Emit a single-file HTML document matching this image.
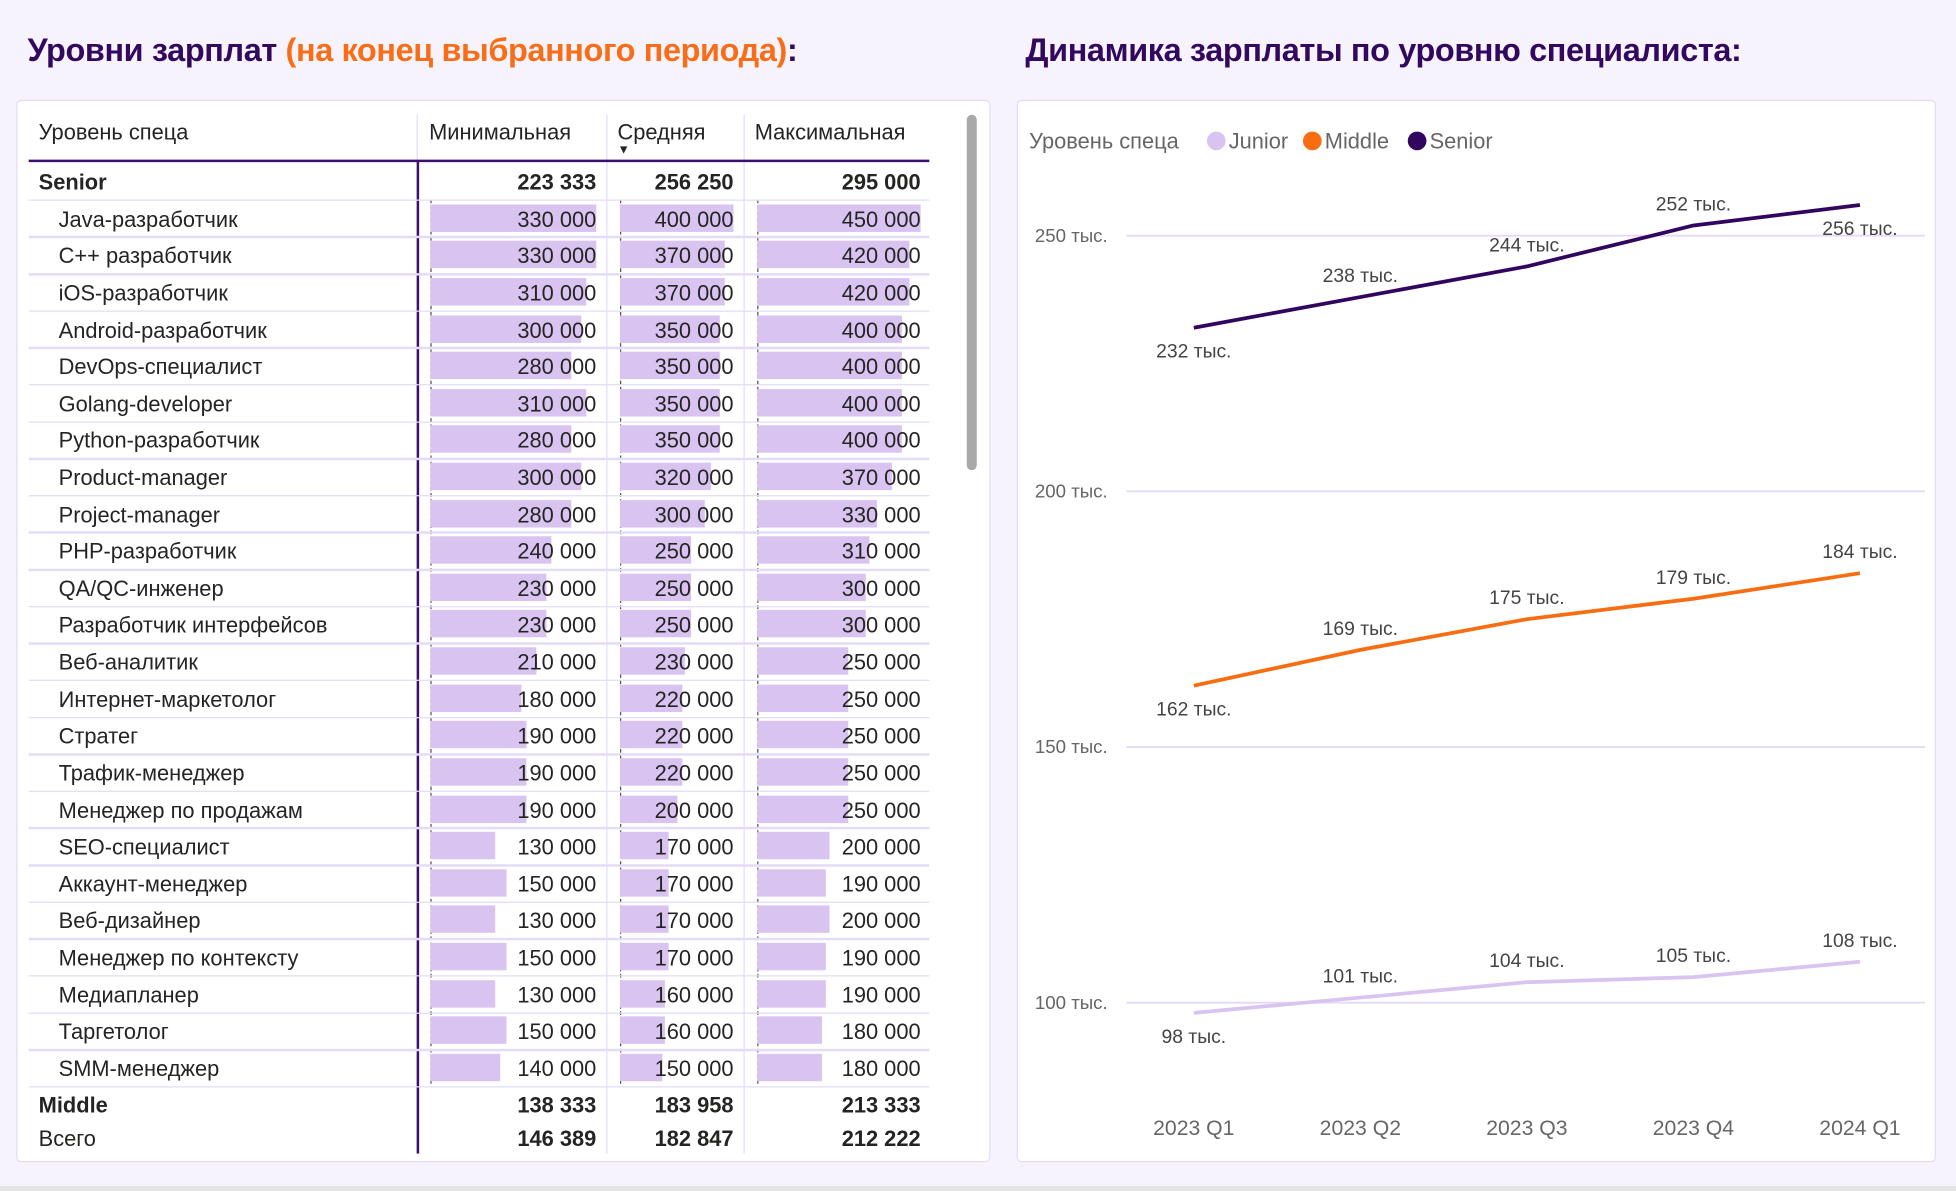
<!DOCTYPE html>
<html><head><meta charset="utf-8">
<style>
html,body{margin:0;padding:0;width:1956px;height:1191px;overflow:hidden;background:#f6f3fd;}
#wrap{position:absolute;left:0;top:0;width:1568px;height:955px;transform:scale(1.24745,1.2471);transform-origin:0 0;font-family:"Liberation Sans","DejaVu Sans",sans-serif;color:#252423;}
.title{position:absolute;font-size:26px;font-weight:bold;color:#33085f;letter-spacing:-0.3px;white-space:nowrap;}
.panel{position:absolute;background:#fff;border:1.5px solid #e4dcf6;border-radius:4px;}
.t{position:absolute;white-space:nowrap;font-size:17.5px;}
</style></head>
<body>
<div id="wrap">
<div class="title" style="left:22px;top:25px">Уровни зарплат <span style="color:#f86d17">(на конец выбранного периода)</span>:</div>
<div class="title" style="left:822px;top:25px">Динамика зарплаты по уровню специалиста:</div>
<div class="panel" style="left:13px;top:80px;width:779px;height:850px"></div>
<div class="panel" style="left:815px;top:80px;width:735px;height:850px"></div>
<div style="position:absolute;left:0;top:951px;width:1568px;height:4px;background:#e4e4e4"></div>
<div id="table"></div>
<div style="position:absolute;left:775px;top:92px;width:8px;height:285px;background:#a9a9a9;border-radius:4px"></div>
<svg id="chart" style="position:absolute;left:0;top:0" width="1568" height="955"></svg>
</div>
<script>
const names=["Java-разработчик","C++ разработчик","iOS-разработчик","Android-разработчик","DevOps-специалист","Golang-developer","Python-разработчик","Product-manager","Project-manager","PHP-разработчик","QA/QC-инженер","Разработчик интерфейсов","Веб-аналитик","Интернет-маркетолог","Стратег","Трафик-менеджер","Менеджер по продажам","SEO-специалист","Аккаунт-менеджер","Веб-дизайнер","Менеджер по контексту","Медиапланер","Таргетолог","SMM-менеджер"];
const minVals=[330000,330000,310000,300000,280000,310000,280000,300000,280000,240000,230000,230000,210000,180000,190000,190000,190000,130000,150000,130000,150000,130000,150000,140000];
const avgVals=[400000,370000,370000,350000,350000,350000,350000,320000,300000,250000,250000,250000,230000,220000,220000,220000,200000,170000,170000,170000,170000,160000,160000,150000];
const maxVals=[450000,420000,420000,400000,400000,400000,400000,370000,330000,310000,300000,300000,250000,250000,250000,250000,250000,200000,190000,200000,190000,190000,180000,180000];
const seniorTotals=[223333,256250,295000];
const middleTotals=[138333,183958,213333];
const allTotals=[146389,182847,212222];

const T=document.getElementById('table');
const fmt=v=>String(v).replace(/\B(?=(\d{3})+(?!\d))/g,' ');
function el(html,style){const d=document.createElement('div');d.className='t';d.style.cssText=style;d.textContent=html;T.appendChild(d);return d;}
function box(style){const d=document.createElement('div');d.style.cssText='position:absolute;'+style;T.appendChild(d);return d;}
let h;
h=el('Уровень спеца','left:31px;top:96px');
h=el('Минимальная','left:344px;top:96px');
h=el('Средняя','left:495px;top:96px');
h=el('Максимальная','left:605px;top:96px');
h=el('▼','left:495px;top:115px;font-size:10px');
const colStart=[345,497,607],colEnd=[478,588,738],colMax=[330000,400000,450000];
const rowH=29.62,c0=145,tOff=9;
let g;
g=box('left:334px;top:92px;width:1px;height:37px;background:#e4dcf6');
g=box('left:486px;top:92px;width:1px;height:833px;background:#e4dcf6');
g=box('left:596px;top:92px;width:1px;height:833px;background:#e4dcf6');
g=box('left:23px;top:128px;width:722px;height:2px;background:#3b0f6e');
g=box('left:334px;top:129px;width:2px;height:796px;background:#3b0f6e');
for(let c=0;c<3;c++){g=box(`left:${colStart[c]}px;top:160px;width:0;height:709px;border-left:1px dashed #555`);}
function totalRow(label,vals,y,bold,name){
  let d=el(label,`left:31px;top:${y-tOff}px;font-weight:${bold?'bold':'normal'}`);
  
  vals.forEach((v,c)=>{let e=el(fmt(v),`right:${1568-colEnd[c]}px;top:${y-tOff}px;font-weight:bold`);
  });
}
totalRow('Senior',seniorTotals,c0,true,'senior');
for(let i=0;i<names.length;i++){
  const y=c0+rowH*(i+1);
  let s=box(`left:23px;top:${(y-rowH/2).toFixed(1)}px;width:722px;height:1.5px;background:#e4dcf6`);
  
  [minVals[i],avgVals[i],maxVals[i]].forEach((v,c)=>{
    const w=(colEnd[c]-colStart[c])*v/colMax[c];
    let b=box(`left:${colStart[c]}px;top:${(y-11).toFixed(1)}px;width:${w.toFixed(1)}px;height:22px;background:#d9c4f1`);
    
    let t=el(fmt(v),`right:${1568-colEnd[c]}px;top:${(y-tOff).toFixed(1)}px`);
    
  });
  let n=el(names[i],`left:47px;top:${(y-tOff).toFixed(1)}px`);
  
}
let s2=box(`left:23px;top:${(c0+rowH*24.5).toFixed(1)}px;width:722px;height:1.5px;background:#e4dcf6`);

totalRow('Middle',middleTotals,885,true,'middle');
totalRow('Всего',allTotals,912,false,'grand');

const quarters=["2023 Q1","2023 Q2","2023 Q3","2023 Q4","2024 Q1"];
const yTicks=[100,150,200,250];
const junior=[98,101,104,105,108];
const middle=[162,169,175,179,184];
const senior=[232,238,244,252,256];
const S=document.getElementById('chart'),NS='http://www.w3.org/2000/svg';
const xS=i=>957+i*133.5, yS=v=>804-(v-100)*4.1;
function mk(tag,attrs,text){const e=document.createElementNS(NS,tag);for(const k in attrs)e.setAttribute(k,attrs[k]);if(text!==undefined)e.textContent=text;S.appendChild(e);return e;}
const ff='"Liberation Sans","DejaVu Sans",sans-serif';
yTicks.forEach(v=>{
  let l=mk('line',{x1:903,x2:1543,y1:yS(v),y2:yS(v),stroke:'#e3d9f7','stroke-width':1.5});
  
  let t=mk('text',{x:888,y:yS(v)+5,'text-anchor':'end','font-size':15,fill:'#666','font-family':ff},v+' тыс.');
  
});
quarters.forEach((q,i)=>{
  let t=mk('text',{x:xS(i),y:910,'text-anchor':'middle','font-size':17,fill:'#666','font-family':ff},q);
  
});
function series(vals,color,name,below){
  let p=mk('polyline',{points:vals.map((v,i)=>xS(i)+','+yS(v)).join(' '),fill:'none',stroke:color,'stroke-width':3,'stroke-linejoin':'round'});
  
  vals.forEach((v,i)=>{
    const dy=below[i]?24:-12;
    let t=mk('text',{x:xS(i),y:yS(v)+dy,'text-anchor':'middle','font-size':15.5,fill:'#444','font-family':ff},v+' тыс.');
    
  });
}
series(junior,'#d9c3f0','junior',[1,0,0,0,0]);
series(middle,'#f86d11','middle',[1,0,0,0,0]);
series(senior,'#32065f','senior',[1,0,0,0,1]);
let lt=mk('text',{x:825,y:119,'font-size':17.5,fill:'#666','font-family':ff},'Уровень спеца');

[['Junior','#d9c3f0',975],['Middle','#f86d11',1052],['Senior','#32065f',1136]].forEach(([n,c,x])=>{
  let ci=mk('circle',{cx:x,cy:113,r:7.5,fill:c});
  
  let t=mk('text',{x:x+10,y:119,'font-size':17.5,fill:'#666','font-family':ff},n);
  
});
</script>
</body></html>
